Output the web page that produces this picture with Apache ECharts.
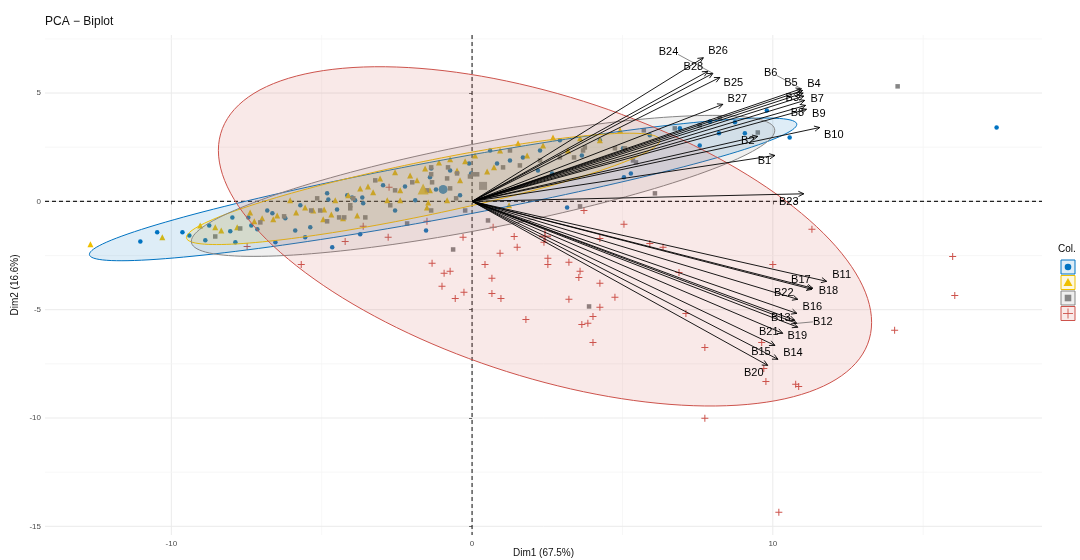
<!DOCTYPE html>
<html><head><meta charset="utf-8">
<script src="https://cdn.jsdelivr.net/npm/echarts@6/dist/echarts.min.js"></script>
<style>html,body{margin:0;padding:0;background:#fff}#c{width:1080px;height:560px}</style>
</head><body><div id="c"></div>
<script>
// ---------- data ----------
const titleText = 'PCA \u2212 Biplot';
const xAxisName = 'Dim1 (67.5%)';
const yAxisName = 'Dim2 (16.6%)';
const legendTitle = 'Col.';

const xTicks = [-10, 0, 10];
const yTicks = [-15, -10, -5, 0, 5];
const xMinorGrid = [-5, 5, 15];
const yMinorGrid = [-12.5, -7.5, -2.5, 2.5, 7.5];

const varNames = ['B1','B2','B3','B4','B5','B6','B7','B8','B9','B10','B11','B12','B13','B14','B15','B16','B17','B18','B19','B20','B21','B22','B23','B24','B25','B26','B27','B28'];
const varDim1 = [10.07, 9.50, 11.03, 11.01, 10.99, 10.95, 11.06, 11.09, 11.12, 11.56, 11.79, 10.80, 10.73, 10.17, 10.07, 10.80, 11.33, 11.30, 10.83, 9.83, 10.33, 10.83, 11.03, 8.01, 8.24, 7.69, 8.34, 7.84];
const varDim2 = [2.12, 3.00, 4.86, 5.00, 5.12, 5.20, 4.66, 4.43, 4.25, 3.41, -3.69, -5.63, -5.49, -7.29, -6.65, -5.17, -4.01, -4.06, -5.81, -7.57, -6.09, -4.52, 0.35, 5.91, 5.72, 6.63, 4.48, 6.00];

// group ellipses (centre = group mean, conjugate half-axes)
const ellipseCenterX = [-0.963, -1.628, 0.365, 2.425];
const ellipseCenterY = [0.554, 0.577, 0.715, -1.615];
const ellipseAxisUX = [11.76, 7.87, 9.70, 10.86];
const ellipseAxisUY = [3.00, 2.24, 2.56, -3.97];
const ellipseAxisVY = [1.36, 1.26, 2.01, 6.75];

const group1Points = [[17.44,3.41],[9.80,4.20],[8.74,3.65],[8.21,3.14],[9.07,3.14],[10.56,2.95],[5.28,1.29],[5.05,1.11],[3.65,2.12],[-9.63,-1.43],[-9.40,-1.57],[-7.97,-0.74],[-7.44,-0.74],[-8.04,-1.38],[-7.34,-1.11],[-7.14,-1.29],[-7.87,-1.89],[-6.81,-0.42],[-6.64,-0.55],[-5.88,-1.34],[-5.55,-1.66],[-5.38,-1.20],[-4.82,0.37],[-4.78,0.09],[-4.49,-0.37],[-4.15,0.28],[-4.65,-2.12],[-6.54,-1.89],[-3.89,0.05],[-3.62,-0.09],[-2.96,0.74],[-2.23,0.69],[-1.40,1.11],[-1.36,1.52],[-1.20,0.55],[-0.10,1.75],[-0.03,1.29],[0.83,1.75],[1.69,2.03],[2.19,1.43],[2.66,1.29],[3.16,-0.28],[5.02,2.45],[-1.53,-1.34],[-3.72,-1.52],[-3.65,0.18],[-3.99,0.18],[-10.47,-1.43],[-8.74,-1.11],[-0.73,1.43],[-0.40,0.28],[0.60,2.35],[1.26,1.89],[2.26,2.35],[2.92,2.82],[4.25,2.82],[5.91,3.05],[6.91,3.37],[7.57,2.58],[-2.56,-0.42],[-1.89,0.05],[-5.71,-0.18],[-6.21,-0.78],[-8.87,-1.80],[-11.03,-1.85],[7.91,3.69]];
const group2Points = [[-12.69,-1.98],[-10.30,-1.66],[-8.54,-1.20],[-8.34,-1.34],[-7.81,-1.20],[-7.24,-0.92],[-6.98,-0.78],[-6.61,-0.83],[-6.48,-0.65],[-5.85,-0.51],[-5.55,-0.28],[-5.28,-0.42],[-4.92,-0.37],[-4.68,-0.60],[-4.95,-0.83],[-4.29,-0.78],[-3.82,-0.65],[-3.46,0.69],[-3.29,0.42],[-2.39,0.51],[-1.83,0.97],[-1.10,1.80],[-0.73,1.94],[-0.50,1.43],[-0.23,1.85],[0.50,1.38],[0.73,1.57],[1.53,2.68],[2.36,2.58],[1.83,2.12],[2.69,2.95],[3.59,2.91],[1.23,-0.18],[-1.50,-0.28],[-2.39,0.05],[-2.82,0.05],[-0.83,0.05],[-1.46,-0.05],[-3.06,1.06],[-2.56,1.34],[-2.06,1.20],[-1.56,1.52],[-4.12,0.28],[-4.55,0.05],[-6.05,0.05],[-7.38,-0.51],[-9.04,-1.11],[3.19,2.35],[4.25,2.82],[4.92,3.28],[0.10,2.12],[0.93,2.35],[-1.40,0.51],[-0.40,0.97],[-3.72,0.60]];
const group3Points = [[14.15,5.31],[3.89,-4.85],[-0.63,-2.22],[0.53,-0.88],[3.59,-0.23],[9.50,3.18],[6.74,3.37],[6.08,0.37],[5.45,1.80],[4.75,2.45],[5.08,2.45],[3.75,2.49],[3.39,2.03],[2.92,2.03],[5.35,1.89],[5.71,3.28],[3.69,2.35],[1.59,1.66],[1.03,1.57],[0.17,1.25],[-0.50,1.29],[-0.83,1.06],[-1.33,0.88],[-0.23,-0.42],[-2.16,-1.02],[-1.36,-0.42],[-3.55,-0.74],[-4.05,-0.18],[-2.72,-0.18],[-1.50,0.51],[-1.99,0.88],[-0.73,0.60],[-0.07,1.15],[-0.53,0.14],[-8.54,-1.62],[-6.25,-0.69],[-5.35,-0.42],[-5.05,-0.42],[-4.82,-0.92],[-4.42,-0.74],[-4.25,-0.74],[-4.05,-0.32],[-3.95,0.14],[-5.15,0.14],[-1.36,1.57],[-1.36,1.25],[-0.80,1.57],[0.03,1.25],[-7.04,-0.97],[-7.71,-1.25],[-2.56,0.51],[-3.22,0.97],[1.26,2.35],[2.26,1.89],[7.57,3.51],[8.24,3.83]];
const group4Points = [[-5.68,-2.91],[-4.22,-1.85],[-2.79,-1.66],[-2.76,0.65],[-7.48,-2.08],[-3.62,-1.15],[-1.50,-0.92],[-1.33,-2.86],[-0.93,-3.32],[-0.73,-3.23],[-1.00,-3.92],[-0.56,-4.48],[-0.27,-4.20],[-0.30,-1.66],[0.43,-2.91],[0.66,-3.55],[0.66,-4.25],[0.96,-4.48],[0.93,-2.40],[0.70,-1.20],[1.40,-1.62],[1.50,-2.12],[1.79,-5.45],[2.52,-2.63],[2.52,-2.91],[3.22,-2.81],[3.59,-3.23],[3.55,-3.51],[3.22,-4.52],[4.25,-3.78],[4.75,-4.43],[4.25,-4.89],[4.02,-5.31],[3.85,-5.63],[3.65,-5.68],[4.02,-6.51],[3.72,-0.42],[4.25,-1.71],[5.05,-1.06],[5.91,-1.94],[6.35,-2.12],[6.88,-3.28],[7.11,-5.17],[7.74,-6.74],[7.74,-10.01],[2.39,-1.89],[11.30,-1.29],[10.00,-2.91],[14.05,-5.95],[9.63,-6.51],[15.98,-2.54],[16.05,-4.34],[10.20,-14.35],[9.77,-8.31],[10.76,-8.44],[10.86,-8.54],[9.70,-7.71]];

// ---------- layout / style (not data) ----------
const COLORS = ['#0073C2', '#EFC000', '#868686', '#CD534C'];
const PLUS = 'path://M3,0H4V3H7V4H4V7H3V4H0V3H3Z';
const SYMBOLS = ['circle', 'triangle', 'rect', PLUS];
const SIZES = [4.5, 6, 4.5, 7];
const MEAN_SIZES = [9, 11, 8, 12];
const FONT = '"Liberation Sans", Arial, Helvetica, sans-serif';
// repel-style label nudges (pixels, label centre relative to arrow tip)
const labelNudge = {B1:[-10.5,6],B2:[-10,5],B3:[-11.5,2],B4:[10.7,-8.7],B5:[-11.7,-7.5],B6:[-30.7,-15.3],B7:[12.5,-1],B8:[-8.2,7.5],B9:[12.3,5],B10:[14,7],
  B11:[15,-6],B12:[26,-1.5],B13:[-14,-2.5],B14:[15,-6.5],B15:[-14,6.5],B16:[15.5,-6],B17:[-12,-8.5],B18:[16.5,2],B19:[-0.5,9],B20:[-14,7.5],B21:[-14,-1],B22:[-14,-6],
  B23:[-15,8.5],B24:[-44.5,-21],B25:[13.5,6],B26:[14.7,-6.3],B27:[14.5,-5.5],B28:[-14.5,-4]};
const leaderFrom = {B24:[9.5,2], B6:[6,2], B12:[-10,0]};

function hexA(hex, a){
  const n = parseInt(hex.slice(1), 16);
  return 'rgba(' + ((n>>16)&255) + ',' + ((n>>8)&255) + ',' + (n&255) + ',' + a + ')';
}

const gridData = [];
xTicks.forEach(v => gridData.push([v, 0, 1]));
xMinorGrid.forEach(v => gridData.push([v, 0, 0]));
yTicks.forEach(v => gridData.push([v, 1, 1]));
yMinorGrid.forEach(v => gridData.push([v, 1, 0]));

const ellipseData = ellipseCenterX.map((cx, i) => [cx, ellipseCenterY[i], ellipseAxisUX[i], ellipseAxisUY[i], ellipseAxisVY[i]]);
const arrowData = varNames.map((n, i) => [varDim1[i], varDim2[i]]);
const groupPoints = [group1Points, group2Points, group3Points, group4Points];

const chart = echarts.init(document.getElementById('c'), null, {renderer: 'canvas'});

const series = [];
// grid lines
series.push({
  type: 'custom', coordinateSystem: 'cartesian2d', z: 0, silent: true, data: gridData,
  renderItem(params, api){
    const cs = params.coordSys;
    const v = api.value(0), ax = api.value(1), major = api.value(2);
    let shape;
    if (ax === 0) { const p = api.coord([v, 0])[0]; shape = {x1: p, y1: cs.y, x2: p, y2: cs.y + cs.height}; }
    else { const p = api.coord([0, v])[1]; shape = {x1: cs.x, y1: p, x2: cs.x + cs.width, y2: p}; }
    if (shape.x1 < cs.x - 0.5 || shape.x1 > cs.x + cs.width + 0.5 || shape.y1 < cs.y - 0.5 || shape.y1 > cs.y + cs.height + 0.5) return null;
    return {type: 'line', shape, style: {stroke: major ? '#ebebeb' : '#f5f5f5', lineWidth: major ? 1 : 0.8}};
  }
});
// dashed reference lines at 0
series.push({
  type: 'custom', coordinateSystem: 'cartesian2d', z: 1, silent: true, data: [[0, 0], [0, 1]],
  renderItem(params, api){
    const cs = params.coordSys;
    const ax = api.value(1);
    let shape;
    if (ax === 0) { const p = api.coord([0, 0])[0]; shape = {x1: p, y1: cs.y, x2: p, y2: cs.y + cs.height}; }
    else { const p = api.coord([0, 0])[1]; shape = {x1: cs.x, y1: p, x2: cs.x + cs.width, y2: p}; }
    return {type: 'line', shape, style: {stroke: '#222', lineWidth: 1.1, lineDash: [4, 3]}};
  }
});
// points
groupPoints.forEach((pts, g) => {
  series.push({
    type: 'scatter', z: 2, symbol: SYMBOLS[g], symbolSize: SIZES[g], data: pts,
    itemStyle: {color: COLORS[g], opacity: 1}, silent: true
  });
});
// group mean points
ellipseCenterX.forEach((cx, g) => {
  series.push({
    type: 'scatter', z: 2, symbol: SYMBOLS[g], symbolSize: MEAN_SIZES[g], data: [[cx, ellipseCenterY[g]]],
    itemStyle: {color: COLORS[g]}, silent: true
  });
});
// ellipses
series.push({
  type: 'custom', coordinateSystem: 'cartesian2d', z: 3, silent: true, data: ellipseData,
  renderItem(params, api){
    const cx = api.value(0), cy = api.value(1), ux = api.value(2), uy = api.value(3), vy = api.value(4);
    const pts = [];
    const N = 160;
    for (let i = 0; i < N; i++) {
      const t = 2 * Math.PI * i / N;
      pts.push(api.coord([cx + ux * Math.cos(t), cy + uy * Math.cos(t) + vy * Math.sin(t)]));
    }
    const c = COLORS[params.dataIndex];
    return {type: 'polygon', shape: {points: pts}, style: {fill: hexA(c, 0.13), stroke: c, lineWidth: 1}};
  }
});
// arrows
series.push({
  type: 'custom', coordinateSystem: 'cartesian2d', z: 5, silent: true, data: arrowData,
  renderItem(params, api){
    const p0 = api.coord([0, 0]);
    const p1 = api.coord([api.value(0), api.value(1)]);
    const ang = Math.atan2(p1[1] - p0[1], p1[0] - p0[0]);
    const L = 6, a = Math.PI / 7;
    const h1 = [p1[0] - L * Math.cos(ang - a), p1[1] - L * Math.sin(ang - a)];
    const h2 = [p1[0] - L * Math.cos(ang + a), p1[1] - L * Math.sin(ang + a)];
    return {type: 'group', children: [
      {type: 'line', shape: {x1: p0[0], y1: p0[1], x2: p1[0], y2: p1[1]}, style: {stroke: '#000', lineWidth: 0.9}},
      {type: 'polyline', shape: {points: [h1, p1, h2]}, style: {stroke: '#000', fill: null, lineWidth: 0.9}}
    ]};
  }
});
// arrow labels
series.push({
  type: 'custom', coordinateSystem: 'cartesian2d', z: 6, silent: true, data: arrowData,
  renderItem(params, api){
    const p1 = api.coord([api.value(0), api.value(1)]);
    const name = varNames[params.dataIndex];
    const off = labelNudge[name] || [12, 0];
    const lx = p1[0] + off[0], ly = p1[1] + off[1];
    const children = [];
    if (leaderFrom[name]) {
      const lf = leaderFrom[name];
      children.push({type: 'line', shape: {x1: lx + lf[0], y1: ly + lf[1], x2: p1[0], y2: p1[1]}, style: {stroke: '#555', lineWidth: 0.7}});
    }
    children.push({type: 'text', x: lx, y: ly, style: {text: name, fill: '#000', fontSize: 11, fontFamily: FONT, align: 'center', verticalAlign: 'middle'}});
    return {type: 'group', children};
  }
});

// legend (drawn)
const legendEls = [{type: 'text', left: 1058, top: 244, style: {text: legendTitle, fill: '#000', fontSize: 10, fontFamily: FONT}}];
const keyTop = 260, keyStep = 15.5, keySize = 14;
COLORS.forEach((c, g) => {
  const y = keyTop + g * keyStep;
  legendEls.push({type: 'rect', shape: {x: 1061, y: y, width: keySize, height: keySize}, style: {fill: hexA(c, 0.13), stroke: c, lineWidth: 1}});
  const cx = 1061 + keySize / 2, cy = y + keySize / 2;
  if (g === 0) legendEls.push({type: 'circle', shape: {cx, cy, r: 3.3}, style: {fill: c}});
  if (g === 1) legendEls.push({type: 'polygon', shape: {points: [[cx, cy - 4.5], [cx + 4.5, cy + 3.5], [cx - 4.5, cy + 3.5]]}, style: {fill: c}});
  if (g === 2) legendEls.push({type: 'rect', shape: {x: cx - 3.3, y: cy - 3.3, width: 6.6, height: 6.6}, style: {fill: c}});
  if (g === 3) legendEls.push({type: 'group', children: [
    {type: 'line', shape: {x1: cx - 5, y1: cy, x2: cx + 5, y2: cy}, style: {stroke: c, lineWidth: 0.9}},
    {type: 'line', shape: {x1: cx, y1: cy - 5, x2: cx, y2: cy + 5}, style: {stroke: c, lineWidth: 0.9}}
  ]});
});

chart.setOption({
  animation: false,
  backgroundColor: '#fff',
  title: {text: titleText, left: 40, top: 11, textStyle: {fontSize: 12, fontWeight: 'normal', color: '#111', fontFamily: FONT}},
  grid: {left: 45, right: 38, top: 35, bottom: 25, containLabel: false, outerBoundsMode: 'none'},
  xAxis: {
    type: 'value', min: -14.2, max: 18.95,
    name: xAxisName, nameLocation: 'middle', nameGap: 13, nameMoveOverlap: false,
    nameTextStyle: {fontSize: 10, color: '#111', fontFamily: FONT},
    axisLine: {show: false},
    axisTick: {show: true, customValues: xTicks, length: 3, lineStyle: {color: '#444', width: 0.8}},
    axisLabel: {customValues: xTicks, fontSize: 8, color: '#4d4d4d', margin: 5, fontFamily: FONT},
    splitLine: {show: false}
  },
  yAxis: {
    type: 'value', min: -15.4, max: 7.68,
    name: yAxisName, nameLocation: 'middle', nameGap: 25, nameRotate: 90, nameMoveOverlap: false,
    nameTextStyle: {fontSize: 10, color: '#111', fontFamily: FONT},
    axisLine: {show: false},
    axisTick: {show: true, customValues: yTicks, length: 3, lineStyle: {color: '#444', width: 0.8}},
    axisLabel: {customValues: yTicks, fontSize: 8, color: '#4d4d4d', margin: 4, fontFamily: FONT},
    splitLine: {show: false}
  },
  graphic: legendEls,
  series
});
</script>
</body></html>
